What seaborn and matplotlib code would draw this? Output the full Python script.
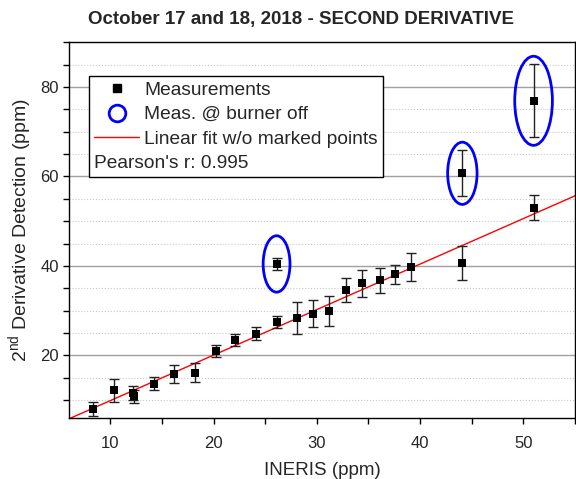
import numpy as np
import pandas as pd
import matplotlib
matplotlib.use('Agg')
import matplotlib.pyplot as plt
from matplotlib.lines import Line2D
from matplotlib.patches import Ellipse
from matplotlib.ticker import MultipleLocator
import seaborn as sns

# data
ineris = [8.3, 10.3, 12.2, 12.3, 14.2, 16.2, 18.2, 20.2, 22.1, 24.1, 26.1, 28.1,
          29.6, 31.2, 32.8, 34.4, 36.1, 37.6, 39.1, 44.1, 51.0]
deriv = [8.1, 12.2, 11.6, 10.9, 13.7, 15.8, 16.2, 21.0, 23.5, 24.9, 27.5, 28.4,
         29.3, 29.9, 34.7, 36.1, 36.8, 38.1, 39.8, 40.7, 53.0]
deriv_err = [1.6, 2.5, 1.5, 1.5, 1.5, 2.0, 2.1, 1.4, 1.4, 1.4, 1.3, 3.5,
             3.0, 3.3, 2.7, 3.0, 2.75, 2.2, 3.2, 3.8, 2.75]

# points measured with the burner off (circled, excluded from fit)
off_x = [26.1, 44.1, 51.0]
off_y = [40.45, 60.7, 76.9]
off_err = [1.4, 5.1, 8.2]
# ellipse size (width, height) in data units
off_ell_w = [2.6, 2.85, 3.65]
off_ell_h = [12.6, 13.9, 19.9]

pearson_r = "0.995"

df = pd.DataFrame({'x': ineris, 'y': deriv, 'err': deriv_err})
df_off = pd.DataFrame({'x': off_x, 'y': off_y, 'err': off_err})
df_all = pd.concat([df, df_off], ignore_index=True)

sns.set_style('white')
plt.rcParams['font.family'] = ['Liberation Sans', 'DejaVu Sans']

fig = plt.figure(figsize=(5.76, 4.79), dpi=100)
ax = fig.add_axes([0.12, 0.127, 0.878, 0.785])

ax.set_xlim(6, 55)
ax.set_ylim(6, 90)

# grid
ax.yaxis.set_major_locator(MultipleLocator(20))
ax.yaxis.set_minor_locator(MultipleLocator(5))
ax.xaxis.set_major_locator(MultipleLocator(10))
ax.xaxis.set_minor_locator(MultipleLocator(5))
ax.grid(axis='y', which='major', color='#a0a0a0', lw=1, ls='-')
ax.grid(axis='y', which='minor', color='#c8c8c8', lw=0.8, ls=':')
ax.grid(axis='x', which='both', visible=False)
ax.set_axisbelow(True)

# fit line (without marked points)
sns.regplot(data=df, x='x', y='y', scatter=False, ci=None, truncate=False,
            color='red', line_kws=dict(lw=1), ax=ax)

ax.errorbar(df_all['x'], df_all['y'], yerr=df_all['err'], fmt='none',
            ecolor='#222222', elinewidth=1, capsize=3.5, capthick=1, zorder=3)
sns.scatterplot(data=df_all, x='x', y='y', marker='s', color='black', s=40,
                edgecolor='black', linewidth=0, ax=ax, zorder=4)

for x, y, w, h in zip(off_x, off_y, off_ell_w, off_ell_h):
    ax.add_patch(Ellipse((x, y), w, h, fill=False, edgecolor='#0000ff', lw=2, zorder=5))

ax.set_xlim(6, 55)
ax.set_ylim(6, 90)

for s in ax.spines.values():
    s.set_color('black')
    s.set_linewidth(1)
ax.tick_params(which='both', direction='out', length=4, width=1, color='black',
               labelsize=12, left=True, bottom=True)
ax.tick_params(axis='x', pad=9)

ax.set_xlabel('INERIS (ppm)', fontsize=13.5, labelpad=8)
ax.set_ylabel('2$^{\\mathregular{nd}}$ Derivative Detection (ppm)', fontsize=14, labelpad=4)
fig.text(0.522, 0.977, 'October 17 and 18, 2018 - SECOND DERIVATIVE', fontsize=13.5,
         fontweight='bold', ha='center', va='top')

handles = [
    Line2D([], [], ls='none', marker='s', color='black', markersize=6),
    Line2D([], [], ls='none', marker='o', markerfacecolor='none',
           markeredgecolor='#0000ff', markeredgewidth=2, markersize=12),
    Line2D([], [], color='red', lw=1),
]
labels = ['Measurements', 'Meas. @ burner off', 'Linear fit w/o marked points']
leg = ax.legend(handles, labels, loc='upper left', bbox_to_anchor=(0.0395, 0.91),
                fontsize=13.8, title="Pearson's r: " + pearson_r,
                title_fontsize=13.8, alignment='left', frameon=True, fancybox=False,
                edgecolor='black', framealpha=1, borderpad=0.28, labelspacing=0.37,
                handlelength=2.3, handletextpad=0.3, borderaxespad=0)
leg.get_frame().set_linewidth(1)
# put the Pearson line under the entries
leg._legend_box._children = leg._legend_box._children[::-1]

fig.savefig('out.png', dpi=100)
